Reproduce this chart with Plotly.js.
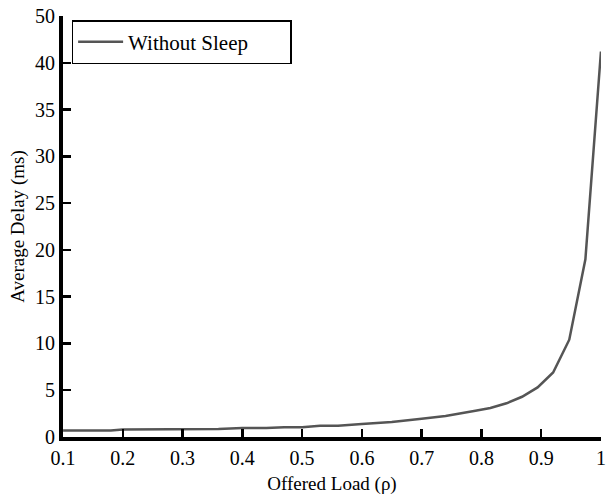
<!DOCTYPE html>
<html>
<head>
<meta charset="utf-8">
<script src="https://cdn.plot.ly/plotly-3.0.1.min.js"></script>
<style>html,body{margin:0;padding:0;background:#fff;}#chart{width:608px;height:501px;}</style>
</head>
<body>
<div id="chart"></div>
<script>
// Data
const offeredLoad = [0.1, 0.18, 0.2, 0.28, 0.3, 0.36, 0.4, 0.44, 0.47, 0.5, 0.53, 0.56, 0.6, 0.65, 0.7, 0.74, 0.79, 0.815, 0.842, 0.868, 0.894, 0.92, 0.947, 0.974, 1.0];
const delayWithoutSleep = [0.7, 0.7, 0.8, 0.8, 0.85, 0.85, 0.95, 0.95, 1.05, 1.05, 1.2, 1.2, 1.4, 1.6, 1.95, 2.25, 2.8, 3.1, 3.6, 4.3, 5.3, 6.9, 10.4, 19.0, 41.2];
const xTickVals = [0.1, 0.2, 0.3, 0.4, 0.5, 0.6, 0.7, 0.8, 0.9, 1.0];
const xTickText = ['0.1', '0.2', '0.3', '0.4', '0.5', '0.6', '0.7', '0.8', '0.9', '1'];
const yTickVals = [0, 5, 10, 15, 20, 25, 30, 35, 40, 45];
const yTickText = ['0', '5', '10', '15', '20', '25', '30', '35', '40', '50'];
const seriesName = 'Without Sleep';

const font = 'Liberation Serif, Times New Roman, serif';

const trace = {
  x: offeredLoad,
  y: delayWithoutSleep,
  type: 'scatter',
  mode: 'lines',
  name: seriesName + '\u00a0\u00a0\u00a0\u00a0\u00a0\u00a0\u00a0',
  line: {color: '#555555', width: 2.5}
};

const layout = {
  width: 608,
  height: 501,
  margin: {l: 63, r: 7, t: 16, b: 64},
  paper_bgcolor: '#ffffff',
  plot_bgcolor: '#ffffff',
  font: {family: font, color: '#000', size: 20},
  showlegend: true,
  legend: {
    x: 0.016, y: 0.99, xanchor: 'left', yanchor: 'top',
    bordercolor: '#000', borderwidth: 1.5, bgcolor: '#fff',
    font: {family: font, size: 21, color: '#000'},
    itemwidth: 45
  },
  xaxis: {
    range: [0.0999, 1.0001],
    tickvals: xTickVals, ticktext: xTickText,
    ticklabeloverflow: 'allow',
    ticks: 'inside', ticklen: 8, tickwidth: 2.5, tickcolor: '#000',
    showline: true, linecolor: '#000', linewidth: 4,
    showgrid: false, zeroline: false,
    tickfont: {family: font, size: 20, color: '#000'},
    title: {text: 'Offered Load (ρ)', font: {family: font, size: 19, color: '#000'}, standoff: 10}
  },
  yaxis: {
    range: [0, 45],
    tickvals: yTickVals, ticktext: yTickText,
    ticks: 'inside', ticklen: 8, tickwidth: 2.5, tickcolor: '#000',
    showline: true, linecolor: '#000', linewidth: 4,
    showgrid: false, zeroline: false,
    tickfont: {family: font, size: 20, color: '#000'},
    title: {text: 'Average Delay (ms)', font: {family: font, size: 19, color: '#000'}, standoff: 6}
  }
};

Plotly.newPlot('chart', [trace], layout, {displayModeBar: false, staticPlot: true});
</script>
</body>
</html>
